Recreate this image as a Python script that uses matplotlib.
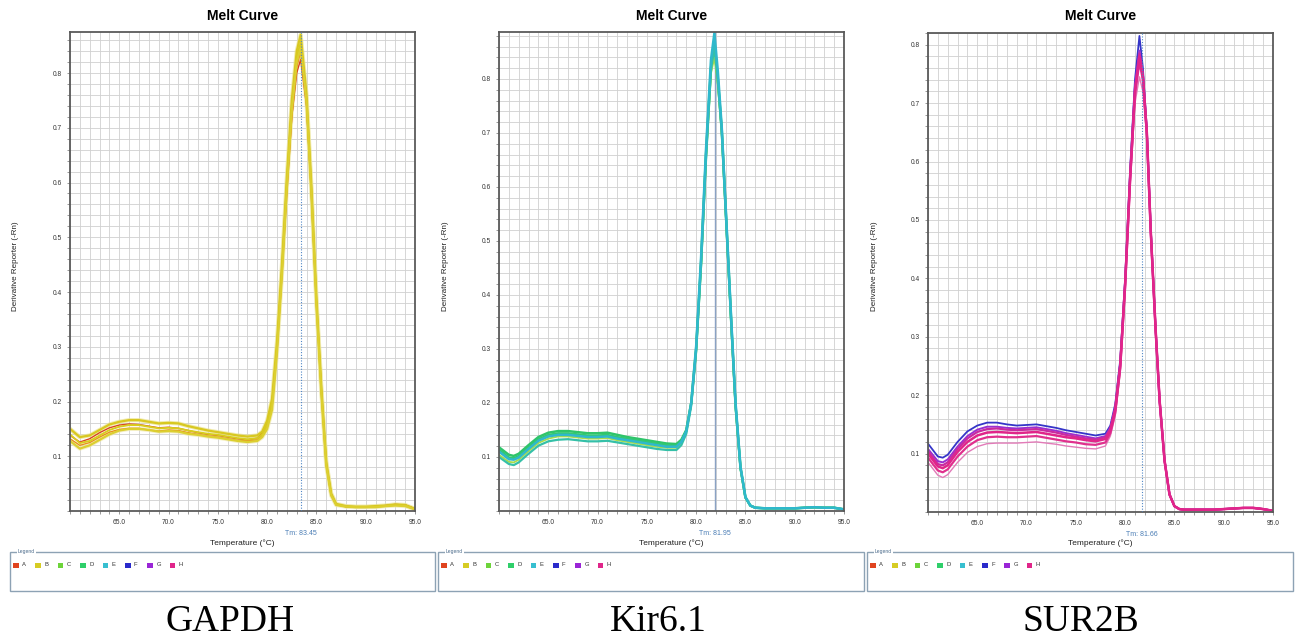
import matplotlib
matplotlib.use("Agg")
import matplotlib.pyplot as plt
from matplotlib.patches import Rectangle
from matplotlib.ticker import MultipleLocator, FixedLocator

W, H = 1296, 641
SANS = ["Liberation Sans", "DejaVu Sans"]
SERIF = ["Liberation Serif", "DejaVu Serif"]

# ---------------- data ----------------
TITLES = ["GAPDH", "Kir6.1", "SUR2B"]
TM_VALUES = [83.45, 81.95, 81.66]
Y_TOPS = [0.875, 0.887, 0.82]
XTICKS = [65.0, 70.0, 75.0, 80.0, 85.0, 90.0, 95.0]
YTICKS = [0.1, 0.2, 0.3, 0.4, 0.5, 0.6, 0.7, 0.8]
LEGEND_LABELS = ["A", "B", "C", "D", "E", "F", "G", "H"]
LEGEND_COLORS = ["#e0441f", "#d6cc24", "#6dd43a", "#2fcf6a", "#37bfd0", "#2a2acb", "#9a25d6", "#e0258a"]

# GAPDH
T_GAPDH = [60, 61, 62, 63, 64, 65, 66, 67, 68, 69, 70, 71, 72, 73, 74, 75, 76, 77, 78, 79,
           79.5, 80, 80.5, 81, 81.5, 82, 82.5, 83, 83.4, 84, 84.5, 85, 85.5, 86, 86.5,
           87, 88, 89, 90, 91, 92, 93, 94, 95]
GAPDH_Y1 = [0.150, 0.135, 0.138, 0.148, 0.158, 0.163, 0.166, 0.166, 0.163, 0.160, 0.161, 0.160, 0.155, 0.151, 0.147, 0.144, 0.141, 0.138, 0.136, 0.138,
            0.145, 0.165, 0.205, 0.310, 0.450, 0.610, 0.750, 0.840, 0.870, 0.760, 0.590, 0.390, 0.225, 0.090, 0.032,
            0.013, 0.009, 0.008, 0.008, 0.009, 0.010, 0.012, 0.011, 0.004]
GAPDH_Y2 = [0.140, 0.124, 0.128, 0.138, 0.148, 0.154, 0.157, 0.157, 0.154, 0.151, 0.152, 0.151, 0.147, 0.144, 0.141, 0.139, 0.136, 0.133, 0.131, 0.133,
            0.140, 0.158, 0.195, 0.300, 0.440, 0.600, 0.740, 0.830, 0.855, 0.750, 0.580, 0.380, 0.220, 0.085, 0.030,
            0.012, 0.008, 0.007, 0.007, 0.008, 0.009, 0.011, 0.010, 0.003]
GAPDH_Y3 = [0.128, 0.114, 0.120, 0.130, 0.140, 0.147, 0.150, 0.150, 0.148, 0.145, 0.146, 0.145, 0.141, 0.139, 0.136, 0.134, 0.131, 0.128, 0.126, 0.128,
            0.135, 0.150, 0.185, 0.290, 0.430, 0.590, 0.730, 0.820, 0.845, 0.745, 0.575, 0.375, 0.215, 0.082, 0.028,
            0.011, 0.008, 0.007, 0.007, 0.007, 0.009, 0.010, 0.009, 0.003]
GAPDH_Y4 = [0.138, 0.126, 0.132, 0.143, 0.152, 0.157, 0.159, 0.158, 0.155, 0.152, 0.153, 0.151, 0.147, 0.143, 0.140, 0.138, 0.135, 0.132, 0.130, 0.133,
            0.142, 0.162, 0.200, 0.300, 0.440, 0.590, 0.720, 0.800, 0.825, 0.740, 0.575, 0.380, 0.220, 0.085, 0.030,
            0.012, 0.008, 0.007, 0.007, 0.008, 0.010, 0.012, 0.011, 0.004]
GAPDH_Y5 = [0.132, 0.120, 0.125, 0.135, 0.144, 0.149, 0.151, 0.151, 0.148, 0.146, 0.148, 0.147, 0.143, 0.140, 0.137, 0.135, 0.132, 0.129, 0.128, 0.130,
            0.138, 0.155, 0.190, 0.290, 0.430, 0.580, 0.720, 0.810, 0.840, 0.745, 0.580, 0.380, 0.220, 0.085, 0.030,
            0.012, 0.008, 0.007, 0.007, 0.008, 0.009, 0.011, 0.011, 0.004]

# Kir6.1
T_KIR = [60, 61, 61.5, 62, 63, 64, 65, 66, 67, 68, 69, 70, 71, 72, 73, 74, 75, 76, 77, 78,
         78.5, 79, 79.5, 80, 80.5, 81, 81.5, 81.85, 82.2, 82.6, 83.1, 83.6, 84, 84.5, 85, 85.5,
         86, 87, 88, 89, 90, 91, 92, 93, 94, 95]
KIR_Y1 = [0.118, 0.104, 0.102, 0.106, 0.122, 0.137, 0.145, 0.148, 0.148, 0.146, 0.144, 0.144, 0.145, 0.141, 0.137, 0.134, 0.131, 0.128, 0.125, 0.124,
          0.132, 0.150, 0.200, 0.300, 0.460, 0.660, 0.820, 0.865, 0.800, 0.705, 0.520, 0.335, 0.195, 0.080, 0.025, 0.010,
          0.006, 0.005, 0.005, 0.005, 0.005, 0.006, 0.007, 0.006, 0.006, 0.003]
KIR_Y2 = [0.114, 0.099, 0.098, 0.102, 0.118, 0.133, 0.141, 0.144, 0.144, 0.142, 0.140, 0.140, 0.141, 0.137, 0.134, 0.131, 0.128, 0.125, 0.122, 0.121,
          0.130, 0.149, 0.200, 0.300, 0.460, 0.660, 0.820, 0.850, 0.800, 0.705, 0.520, 0.335, 0.195, 0.080, 0.025, 0.010,
          0.006, 0.005, 0.005, 0.005, 0.005, 0.006, 0.007, 0.006, 0.006, 0.003]
KIR_Y3 = [0.104, 0.091, 0.090, 0.095, 0.111, 0.126, 0.134, 0.138, 0.138, 0.136, 0.134, 0.134, 0.135, 0.131, 0.128, 0.125, 0.122, 0.119, 0.117, 0.117,
          0.126, 0.146, 0.198, 0.300, 0.460, 0.655, 0.810, 0.840, 0.790, 0.700, 0.515, 0.330, 0.193, 0.079, 0.025, 0.010,
          0.006, 0.005, 0.005, 0.005, 0.005, 0.006, 0.007, 0.006, 0.006, 0.003]
KIR_Y4 = [0.100, 0.087, 0.085, 0.090, 0.106, 0.121, 0.129, 0.132, 0.133, 0.131, 0.129, 0.129, 0.130, 0.127, 0.124, 0.121, 0.118, 0.115, 0.113, 0.113,
          0.122, 0.143, 0.195, 0.295, 0.455, 0.650, 0.815, 0.860, 0.795, 0.700, 0.515, 0.332, 0.194, 0.079, 0.025, 0.010,
          0.006, 0.005, 0.005, 0.005, 0.005, 0.006, 0.007, 0.006, 0.006, 0.003]
KIR_Y5 = [0.110, 0.096, 0.095, 0.099, 0.115, 0.130, 0.138, 0.141, 0.141, 0.139, 0.137, 0.137, 0.138, 0.134, 0.131, 0.128, 0.125, 0.122, 0.119, 0.119,
          0.128, 0.148, 0.200, 0.305, 0.470, 0.670, 0.835, 0.885, 0.815, 0.710, 0.525, 0.340, 0.200, 0.082, 0.026, 0.010,
          0.006, 0.005, 0.005, 0.005, 0.005, 0.006, 0.007, 0.006, 0.006, 0.003]

# SUR2B
T_SUR = [60, 61, 61.5, 62, 63, 64, 65, 66, 67, 68, 69, 70, 71, 72, 73, 74, 75, 76, 77, 78,
         78.5, 79, 79.5, 80, 80.5, 81, 81.45, 81.8, 82.2, 82.6, 83.1, 83.5, 84, 84.5, 85, 85.5,
         86, 87, 88, 89, 90, 91, 92, 93, 94, 95]
SUR_Y1 = [0.117, 0.095, 0.093, 0.098, 0.120, 0.138, 0.148, 0.153, 0.153, 0.150, 0.148, 0.149, 0.150, 0.147, 0.144, 0.140, 0.137, 0.134, 0.131, 0.134,
          0.148, 0.185, 0.260, 0.400, 0.585, 0.740, 0.815, 0.760, 0.655, 0.485, 0.310, 0.190, 0.088, 0.030, 0.010, 0.005,
          0.004, 0.004, 0.004, 0.004, 0.005, 0.006, 0.007, 0.007, 0.005, 0.002]
SUR_Y2 = [0.108, 0.087, 0.085, 0.090, 0.112, 0.130, 0.141, 0.146, 0.146, 0.144, 0.143, 0.144, 0.145, 0.142, 0.139, 0.135, 0.132, 0.129, 0.126, 0.130,
          0.145, 0.180, 0.255, 0.395, 0.575, 0.730, 0.790, 0.750, 0.652, 0.482, 0.310, 0.190, 0.088, 0.030, 0.010, 0.005,
          0.004, 0.004, 0.004, 0.004, 0.005, 0.006, 0.007, 0.007, 0.005, 0.002]
SUR_Y3 = [0.100, 0.078, 0.075, 0.080, 0.103, 0.120, 0.131, 0.136, 0.137, 0.136, 0.135, 0.136, 0.137, 0.134, 0.131, 0.128, 0.126, 0.123, 0.121, 0.125,
          0.140, 0.175, 0.250, 0.390, 0.570, 0.720, 0.780, 0.745, 0.650, 0.480, 0.310, 0.190, 0.088, 0.030, 0.010, 0.005,
          0.004, 0.004, 0.004, 0.004, 0.005, 0.006, 0.007, 0.007, 0.005, 0.002]
SUR_Y4 = [0.093, 0.071, 0.068, 0.073, 0.095, 0.112, 0.123, 0.128, 0.129, 0.128, 0.128, 0.129, 0.130, 0.127, 0.124, 0.121, 0.119, 0.116, 0.115, 0.119,
          0.135, 0.170, 0.245, 0.385, 0.565, 0.715, 0.770, 0.740, 0.648, 0.478, 0.308, 0.190, 0.087, 0.030, 0.010, 0.005,
          0.004, 0.004, 0.004, 0.004, 0.005, 0.006, 0.007, 0.007, 0.005, 0.002]
SUR_Y5 = [0.085, 0.063, 0.059, 0.064, 0.085, 0.102, 0.112, 0.117, 0.118, 0.118, 0.118, 0.119, 0.120, 0.118, 0.116, 0.113, 0.111, 0.109, 0.108, 0.113,
          0.130, 0.165, 0.240, 0.380, 0.560, 0.700, 0.745, 0.720, 0.640, 0.475, 0.305, 0.188, 0.086, 0.030, 0.010, 0.005,
          0.004, 0.004, 0.004, 0.004, 0.005, 0.006, 0.007, 0.007, 0.005, 0.002]
SUR_Y6 = [0.104, 0.082, 0.080, 0.085, 0.108, 0.126, 0.137, 0.142, 0.143, 0.141, 0.140, 0.141, 0.142, 0.139, 0.136, 0.132, 0.129, 0.126, 0.124, 0.128,
          0.142, 0.178, 0.252, 0.392, 0.572, 0.725, 0.785, 0.748, 0.651, 0.481, 0.310, 0.190, 0.088, 0.030, 0.010, 0.005,
          0.004, 0.004, 0.004, 0.004, 0.005, 0.006, 0.007, 0.007, 0.005, 0.002]

# (series, color, linewidth, alpha) per panel
PANEL_SERIES = [
    (T_GAPDH, [(GAPDH_Y1, "#ebe38c", 3.0, 0.7), (GAPDH_Y3, "#efe8a8", 3.0, 0.7),
               (GAPDH_Y4, "#d9451f", 1.0, 1.0), (GAPDH_Y5, "#e8901c", 1.0, 1.0),
               (GAPDH_Y2, "#d9cc1e", 1.4, 1.0), (GAPDH_Y1, "#d8c820", 1.6, 1.0),
               (GAPDH_Y3, "#dccf30", 1.6, 1.0)]),
    (T_KIR, [(KIR_Y1, "#2fc46a", 1.8, 1.0), (KIR_Y2, "#33c872", 1.6, 1.0),
             (KIR_Y3, "#a8dc4a", 1.3, 1.0), (KIR_Y4, "#35c0a8", 1.6, 1.0),
             (KIR_Y5, "#2fb8cc", 1.8, 1.0)]),
    (T_SUR, [(SUR_Y1, "#3535c8", 1.3, 1.0), (SUR_Y2, "#9a30d0", 1.4, 1.0),
             (SUR_Y5, "#e27ab8", 1.0, 1.0), (SUR_Y6, "#c92aa0", 1.6, 1.0),
             (SUR_Y4, "#e0308e", 1.6, 1.0), (SUR_Y3, "#e0258a", 1.8, 1.0)]),
]

# ---------------- layout ----------------
AX_BOXES = [(70, 32, 415, 511), (499, 32, 844, 511), (928, 33, 1273, 512)]
LEG_BOXES = [(10, 552, 435, 591), (438, 552, 864, 591), (867, 552, 1293, 591)]
CAPTION_X = [230, 658, 1081]


def fx(x):
    return x / W


def fy(y):
    return 1 - y / H


fig = plt.figure(figsize=(W / 100, H / 100), dpi=100)
fig.patch.set_facecolor("white")

for i, (l, t, r, b) in enumerate(AX_BOXES):
    ax = fig.add_axes([fx(l), fy(b), (r - l) / W, (b - t) / H])
    temps, series = PANEL_SERIES[i]
    ax.set_xlim(60, 95)
    ax.set_ylim(0, Y_TOPS[i])
    ax.xaxis.set_major_locator(FixedLocator(XTICKS))
    ax.yaxis.set_major_locator(FixedLocator(YTICKS))
    ax.xaxis.set_minor_locator(MultipleLocator(1))
    ax.yaxis.set_minor_locator(MultipleLocator(0.02))
    ax.set_xticklabels([f"{v:.1f}" for v in XTICKS], fontsize=4.8, family=SANS, color="#333333")
    ax.set_yticklabels([f"{v:.1f}" for v in YTICKS], fontsize=4.8, family=SANS, color="#333333")
    ax.grid(True, which="both", color="#d0d0d0", linewidth=0.6)
    ax.set_axisbelow(True)
    ax.tick_params(which="both", direction="out", length=2.2, width=0.6, color="#888888", pad=3.5)
    for s in ax.spines.values():
        s.set_color("#5a5a5a")
        s.set_linewidth(1.3)

    for ys, col, lw, al in series:
        ax.plot(temps, ys, color=col, lw=lw, alpha=al, solid_joinstyle="round", solid_capstyle="round")

    tm = TM_VALUES[i]
    if i == 1:
        ax.axvline(tm, color="#8aa2c4", lw=1.0, zorder=1.5)
    else:
        ax.axvline(tm, color="#4f86c6", lw=0.8, ls=(0, (1, 1.5)), zorder=3)
    ax.annotate(f"Tm: {tm:.2f}", xy=(tm, 0), xycoords=("data", "axes fraction"),
                xytext=(0, -16.5), textcoords="offset points", ha="center", va="center",
                fontsize=5, family=SANS, color="#4a7db5")

    cx = (l + r) / 2
    fig.text(fx(cx), fy(16), "Melt Curve", ha="center", va="center", fontsize=10,
             fontweight="bold", family=SANS)
    fig.text(fx(cx), fy(543), "Temperature (°C)", ha="center", va="center", fontsize=6,
             family=SANS, color="#222222")
    fig.text(fx(l - 54), fy(266), "Derivative Reporter (-Rn)", ha="center", va="center",
             rotation=90, fontsize=5.8, family=SANS, color="#222222")

    # legend box
    lx0, ly0, lx1, ly1 = LEG_BOXES[i]
    fig.add_artist(Rectangle((fx(lx0), fy(ly1)), (lx1 - lx0) / W, (ly1 - ly0) / H,
                             transform=fig.transFigure, facecolor="white",
                             edgecolor="#8da2b4", lw=1.0))
    fig.text(fx(lx0 + 8), fy(ly0), "Legend", ha="left", va="center", fontsize=3.6,
             family=SANS, color="#4a6a8a",
             bbox=dict(facecolor="white", edgecolor="none", pad=0.6))
    for k, (lab, col) in enumerate(zip(LEGEND_LABELS, LEGEND_COLORS)):
        sx = lx0 + 3 + k * 22.4
        fig.add_artist(Rectangle((fx(sx), fy(ly0 + 16)), 5.5 / W, 5.5 / H,
                                 transform=fig.transFigure, facecolor=col, edgecolor="none"))
        fig.text(fx(sx + 9), fy(ly0 + 13), lab, ha="left", va="center", fontsize=4.2,
                 family=SANS, color="#333333")

    fig.text(fx(CAPTION_X[i]), fy(622), TITLES[i], ha="center", va="center", fontsize=27,
             family=SERIF, color="black")

fig.savefig("out.png", dpi=100, facecolor="white")
